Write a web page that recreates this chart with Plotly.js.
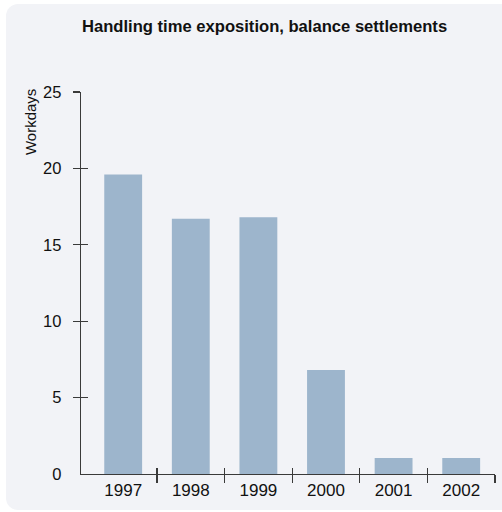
<!DOCTYPE html>
<html>
<head>
<meta charset="utf-8">
<script src="https://cdn.plot.ly/plotly-3.0.1.min.js"></script>
<style>
  html, body { margin:0; padding:0; background:#ffffff; width:502px; height:512px; overflow:hidden; }
  #panel { position:absolute; left:6px; top:4px; width:520px; height:506px; border-radius:12px; background:#f2f3f7; }
  #chart { position:absolute; left:0; top:0; width:502px; height:512px; }
</style>
</head>
<body>
<div id="panel"></div>
<div id="chart"></div>
<script>
const years = [1997, 1998, 1999, 2000, 2001, 2002];
const yearLabels = ['1997', '1998', '1999', '2000', '2001', '2002'];
const workdays = [19.6, 16.7, 16.8, 6.8, 1.05, 1.05];
const yTickVals = [0, 5, 10, 15, 20, 25];
const yTickMarks = [5, 10, 15, 20, 25];
const xBoundaries = [1997.5, 1998.5, 1999.5, 2000.5, 2001.5, 2002.5];

const FONT = 'Liberation Sans, Arial, sans-serif';
const AX = '#3a3a3a';
const xRange = [1996.376, 2002.5];
const yRange = [0, 25];

const ghost = (xa, ya) => ({
  type: 'scatter', mode: 'markers', x: years, y: workdays,
  xaxis: xa, yaxis: ya, marker: { opacity: 0, size: 1 }, hoverinfo: 'skip'
});

const data = [{
  type: 'bar',
  x: years,
  y: workdays,
  width: 0.56,
  marker: { color: '#9db5cc', line: { width: 0 } },
  hoverinfo: 'skip'
}, ghost('x2', 'y2'), ghost('x3', 'y3')];

const layout = {
  width: 502, height: 512,
  margin: { l: 81, r: 7, t: 92, b: 38 },
  paper_bgcolor: 'rgba(0,0,0,0)',
  plot_bgcolor: 'rgba(0,0,0,0)',
  showlegend: false,
  font: { family: FONT, color: '#111111', size: 17 },
  title: {
    text: '<b>Handling time exposition, balance settlements</b>',
    font: { family: FONT, size: 16.6, color: '#111111' },
    x: 0.527, xref: 'container', xanchor: 'center',
    y: 0.949, yref: 'container', yanchor: 'middle'
  },
  xaxis: {
    range: xRange, fixedrange: true,
    tickmode: 'array', tickvals: years, ticktext: yearLabels,
    ticks: '', ticklen: 0,
    showgrid: false, zeroline: false,
    showline: true, linecolor: AX, linewidth: 1.3,
    tickfont: { family: FONT, size: 17, color: '#111111' }
  },
  xaxis2: {
    overlaying: 'x', anchor: 'y2', range: xRange, fixedrange: true,
    tickmode: 'array', tickvals: xBoundaries, showticklabels: false,
    ticks: 'outside', ticklen: 8, tickwidth: 1.3, tickcolor: AX,
    showgrid: false, zeroline: false, showline: false
  },
  xaxis3: {
    overlaying: 'x', anchor: 'y3', range: xRange, fixedrange: true,
    tickmode: 'array', tickvals: xBoundaries, showticklabels: false,
    ticks: 'inside', ticklen: 6, tickwidth: 1.3, tickcolor: AX,
    showgrid: false, zeroline: false, showline: false
  },
  yaxis: {
    range: yRange, fixedrange: true,
    tickmode: 'array', tickvals: yTickVals,
    ticks: '', ticklen: 0, ticklabelstandoff: 15,
    showgrid: false, zeroline: false,
    showline: true, linecolor: AX, linewidth: 1.3,
    tickfont: { family: FONT, size: 16.5, color: '#111111' }
  },
  yaxis2: {
    overlaying: 'y', anchor: 'x2', range: yRange, fixedrange: true,
    tickmode: 'array', tickvals: yTickMarks, showticklabels: false,
    ticks: 'outside', ticklen: 7, tickwidth: 1.3, tickcolor: AX,
    showgrid: false, zeroline: false, showline: false
  },
  yaxis3: {
    overlaying: 'y', anchor: 'x3', range: yRange, fixedrange: true,
    tickmode: 'array', tickvals: yTickMarks, showticklabels: false,
    ticks: 'inside', ticklen: 7, tickwidth: 1.3, tickcolor: AX,
    showgrid: false, zeroline: false, showline: false
  },
  annotations: [{
    text: 'Workdays', textangle: -90,
    xref: 'paper', x: -0.123, xanchor: 'center',
    yref: 'y', y: 25, yanchor: 'top', yshift: 5,
    showarrow: false,
    font: { family: FONT, size: 15, color: '#111111' }
  }]
};

Plotly.newPlot('chart', data, layout, { displayModeBar: false, staticPlot: true });
</script>
</body>
</html>
